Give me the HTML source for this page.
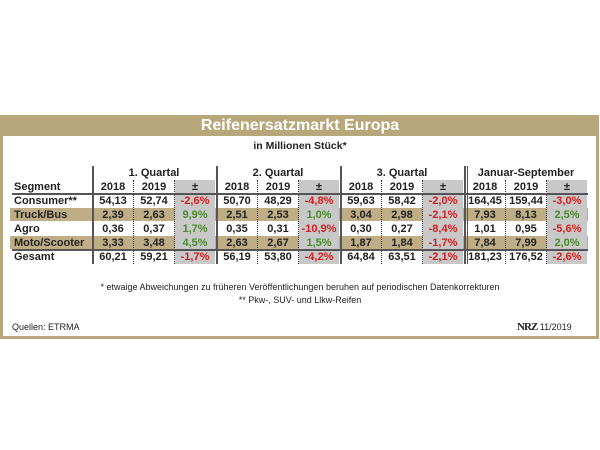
<!DOCTYPE html>
<html><head><meta charset="utf-8"><style>
body{margin:0;width:600px;height:450px;background:#fff;position:relative;overflow:hidden;font-family:"Liberation Sans",sans-serif}
div{position:absolute;box-sizing:border-box}
.t{font-weight:bold;font-size:11px;color:#222;white-space:nowrap;line-height:14px}
.c{transform:translateX(-50%);text-align:center}
</style></head><body>
<div style="left:0;top:115px;width:599px;height:224px;border:3px solid #b8a77b"></div>
<div style="left:0;top:115px;width:599px;height:21px;background:#b8a77b"></div>
<div class="t c" style="left:300px;top:116px;font-size:16px;line-height:20px;color:#fff">Reifenersatzmarkt Europa</div>
<div class="t c" style="left:300px;top:139px;font-size:10.5px">in Millionen Stück*</div>
<div id="tbl" style="left:0;top:0;width:600px;height:450px"></div>
<div class="t c" style="left:300px;top:280px;font-weight:normal;font-size:9px">* etwaige Abweichungen zu früheren Veröffentlichungen beruhen auf periodischen Datenkorrekturen</div>
<div class="t c" style="left:300px;top:293px;font-weight:normal;font-size:9px">** Pkw-, SUV- und Llkw-Reifen</div>
<div class="t" style="left:12px;top:320px;font-weight:normal;font-size:9px">Quellen: ETRMA</div>
<div class="t" style="left:517px;top:320px;font-weight:normal;font-size:9px"><span style="font-family:'Liberation Serif',serif;font-weight:bold;font-size:11px;letter-spacing:-1px">NRZ</span> 11/2019</div>
<script>
const segments=["Consumer**","Truck/Bus","Agro","Moto/Scooter","Gesamt"];
const q1_2018=["54,13","2,39","0,36","3,33","60,21"];
const q1_2019=["52,74","2,63","0,37","3,48","59,21"];
const q1_chg=["-2,6%","9,9%","1,7%","4,5%","-1,7%"];
const q2_2018=["50,70","2,51","0,35","2,63","56,19"];
const q2_2019=["48,29","2,53","0,31","2,67","53,80"];
const q2_chg=["-4,8%","1,0%","-10,9%","1,5%","-4,2%"];
const q3_2018=["59,63","3,04","0,30","1,87","64,84"];
const q3_2019=["58,42","2,98","0,27","1,84","63,51"];
const q3_chg=["-2,0%","-2,1%","-8,4%","-1,7%","-2,1%"];
const ytd_2018=["164,45","7,93","1,01","7,84","181,23"];
const ytd_2019=["159,44","8,13","0,95","7,99","176,52"];
const ytd_chg=["-3,0%","2,5%","-5,6%","2,0%","-2,6%"];
const groups=["1. Quartal","2. Quartal","3. Quartal","Januar-September"];
const T=document.getElementById('tbl');
function mk(style,txt,cls){const d=document.createElement('div');d.style.cssText=style;if(cls)d.className=cls;if(txt!==undefined)d.textContent=txt;T.appendChild(d);return d;}
const rowY=[201,215,229,243,257];
const gx=[92,216,340,464];
[1,3].forEach(r=>{const e=mk(`left:10px;top:${rowY[r]-7}px;width:578px;height:13px;background:#bfae85`);

});
const data=[[q1_2018,q1_2019,q1_chg],[q2_2018,q2_2019,q2_chg],[q3_2018,q3_2019,q3_chg],[ytd_2018,ytd_2019,ytd_chg]];
gx.forEach((x,g)=>{
 const gc=mk(`left:${x+83}px;top:180px;width:40px;height:84px;background:#c8c8c8`);
 
 
 const vl=mk(`left:${x}px;top:166px;width:2px;height:98px;background:#555`);
 
 
 [41,82].forEach(o=>{const dl=mk(`left:${x+o}px;top:180px;width:0;height:84px;border-left:1.5px dotted #333`);
 
 });
 const gh=mk(`left:${x+62}px;top:166px`,groups[g],'t c');
 
 
 ["2018","2019","±"].forEach((h,k)=>{const e=mk(`left:${x+21+k*41}px;top:180px`,h,'t c');
 
 });
 for(let r=0;r<5;r++){for(let k=0;k<3;k++){const v=data[g][k][r];
  let col='#222';if(k==2)col=v[0]=='-'?'#d42020':'#4a8a2a';
  const e=mk(`left:${x+21+k*41}px;top:${rowY[r]-7}px;color:${col}`,v,'t c');
  
  }}
});
const dbl=mk(`left:467px;top:166px;width:1px;height:98px;background:#555`);


const sh=mk(`left:14px;top:180px`,"Segment",'t');


segments.forEach((s,r)=>{const e=mk(`left:14px;top:${rowY[r]-7}px`,s,'t');

});
[193,249].forEach(y=>{const e=mk(`left:12px;top:${y}px;width:576px;height:2px;background:#555`);

});
</script>
</body></html>
